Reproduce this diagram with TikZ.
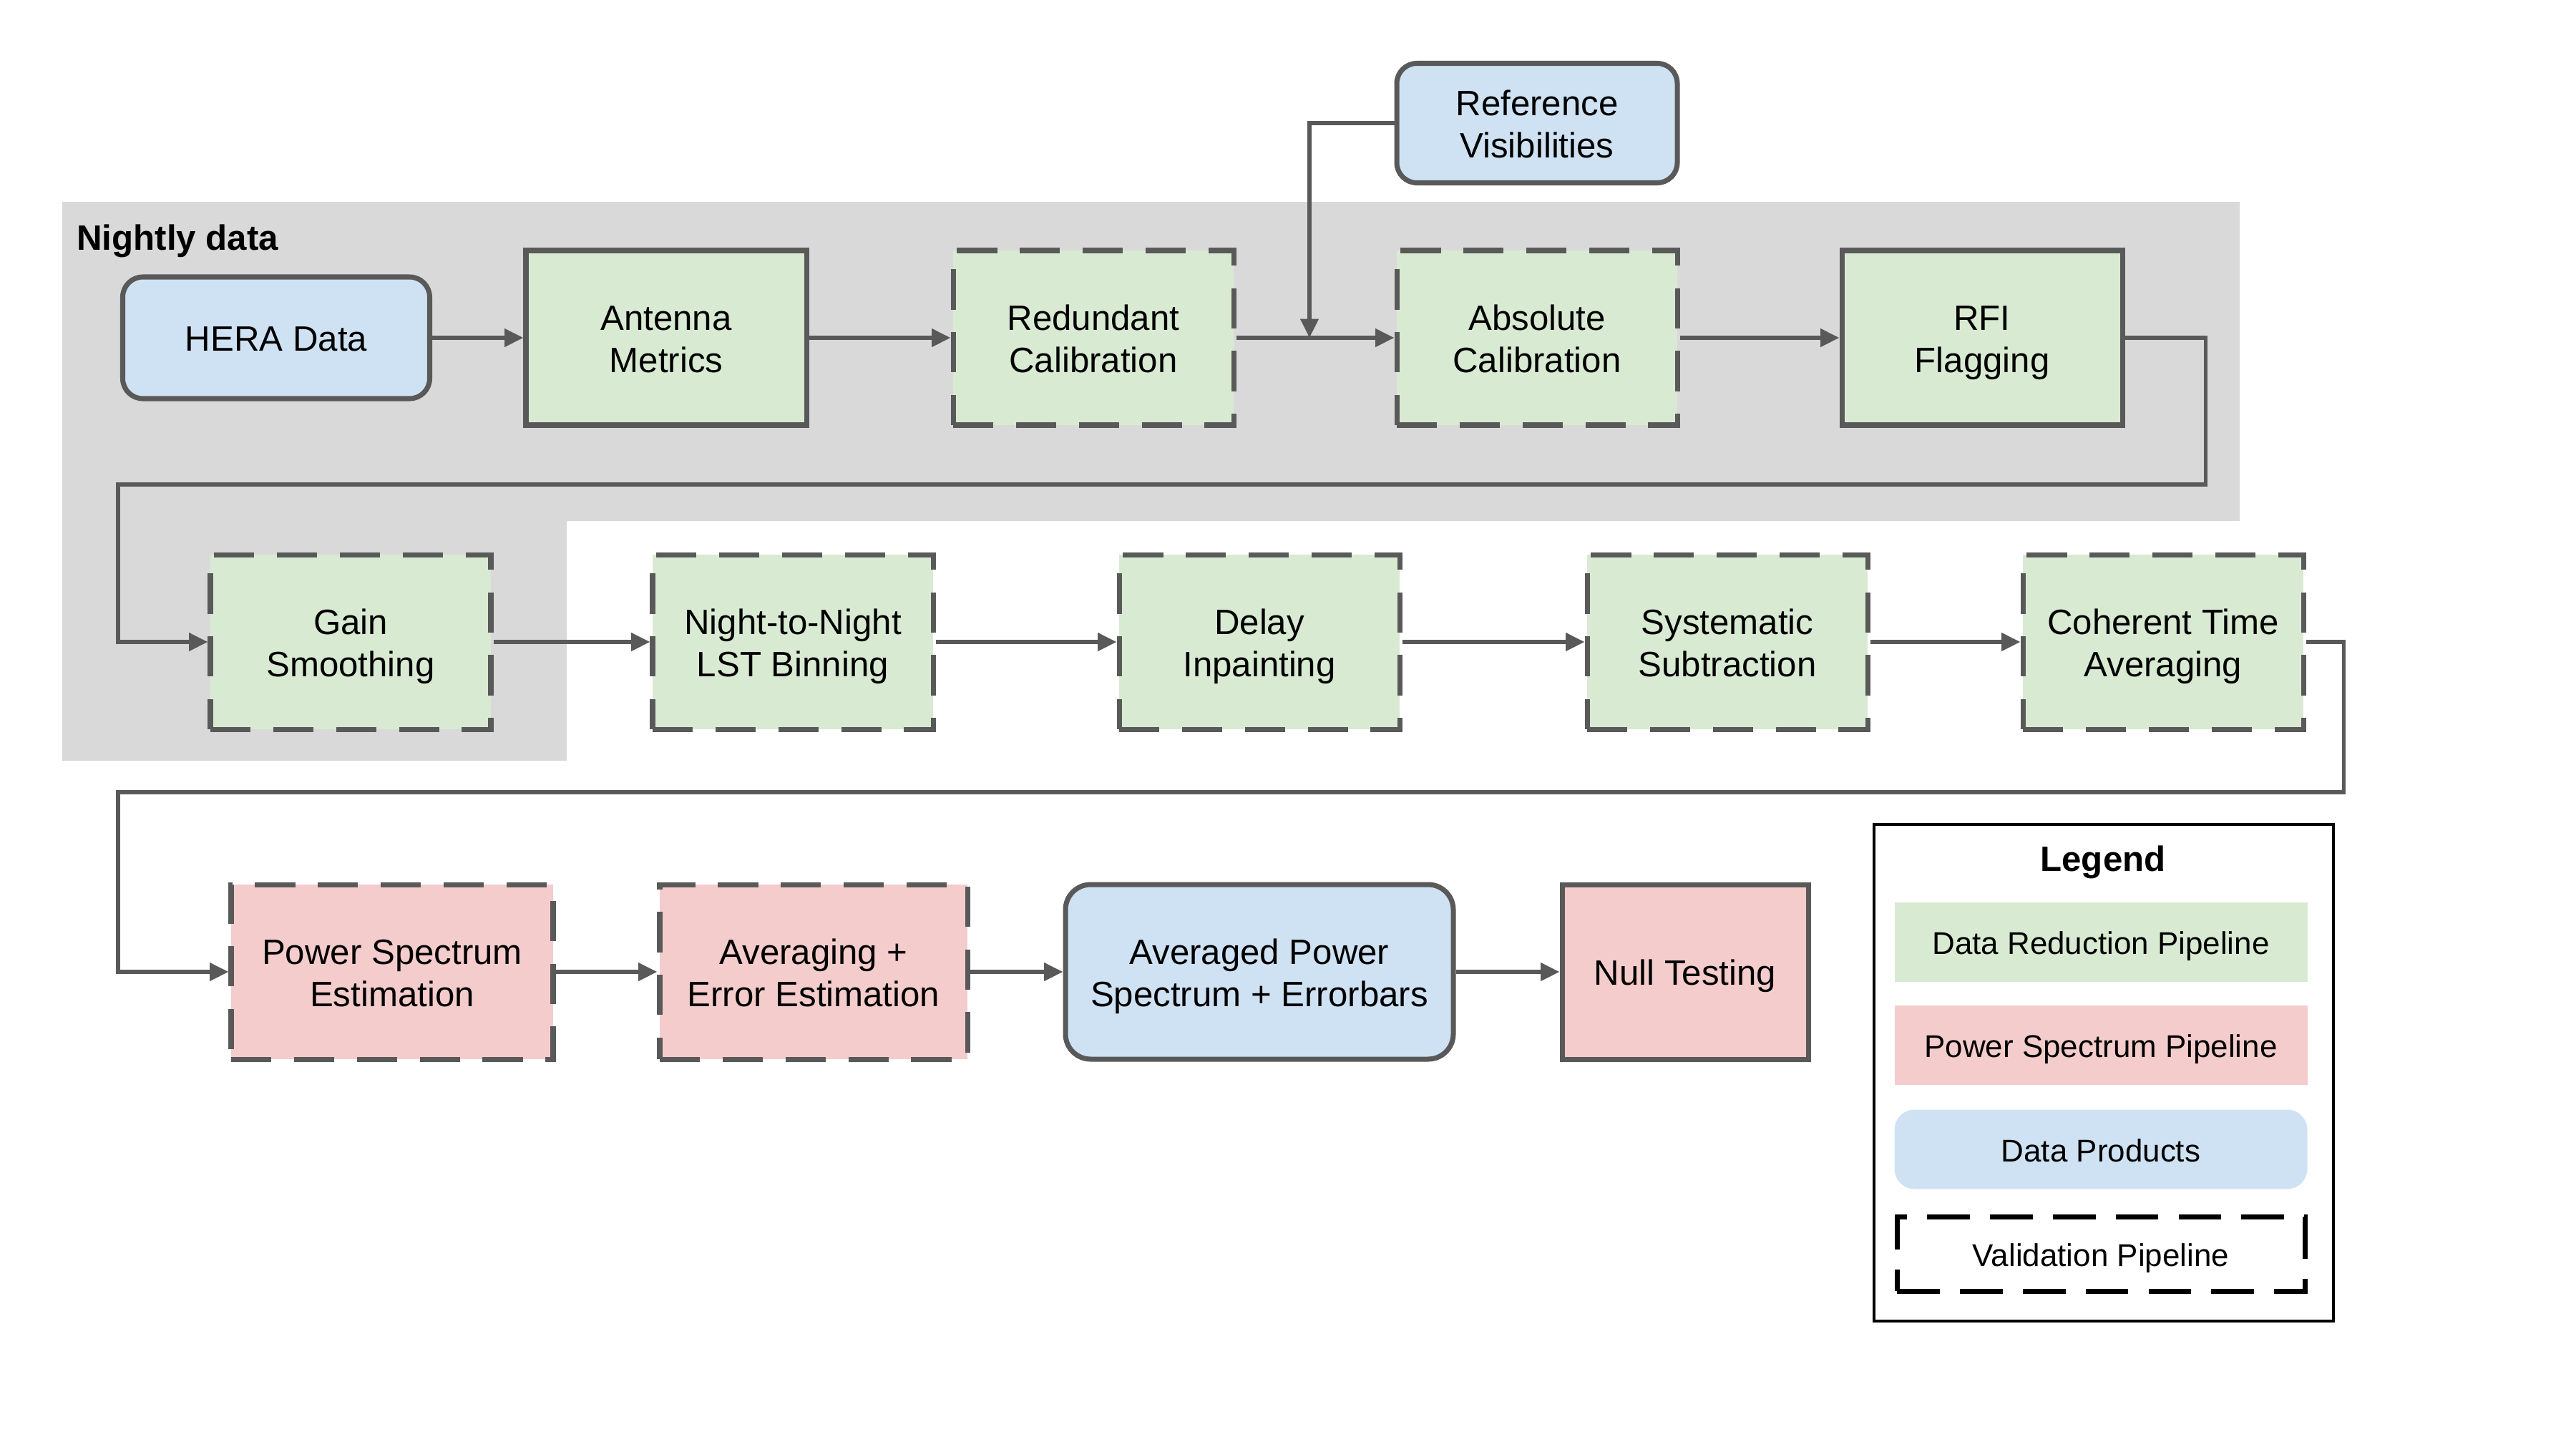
\documentclass[tikz,border=0pt]{standalone}
\usepackage{fontspec}
\setmainfont{Liberation Sans}
\usetikzlibrary{arrows.meta,positioning}
\definecolor{heragreen}{HTML}{D9EAD3}
\definecolor{herared}{HTML}{F4CCCC}
\definecolor{herablue}{HTML}{CFE2F3}
\definecolor{heragray}{HTML}{D9D9D9}
\definecolor{heraline}{HTML}{595959}

\tikzset{
  box/.style={draw=heraline, line width=2pt, minimum width=3.92cm, minimum height=2.44cm,
    align=center, font=\fontsize{14}{17}\selectfont, text height=29.8pt, text depth=2pt},
  oneline/.style={text height=12.6pt, text depth=2pt},
  redu/.style={box, fill=heragreen},
  pspec/.style={box, fill=herared},
  prod/.style={box, fill=herablue, rounded corners=8pt},
  valid/.style={dash pattern=on 16pt off 9pt},
  flow/.style={draw=heraline, line width=1.5pt, -{Triangle[length=7.5pt,width=7pt]}},
  legbox/.style={minimum width=5.77cm, minimum height=1.11cm, font=\fontsize{12.5}{15}\selectfont,
    execute at begin node=\rule[-3pt]{0pt}{16pt}},
  bigbold/.style={font=\bfseries\fontsize{14}{17}\selectfont,
    execute at begin node=\rule[-3pt]{0pt}{12.4pt}},
}

\begin{document}
\begin{tikzpicture}
\useasboundingbox (0,0) rectangle (36,-20);

% Nightly data region
\fill[heragray] (0.87,-2.82) -- (31.30,-2.82) -- (31.30,-7.28) -- (7.92,-7.28)
  -- (7.92,-10.63) -- (0.87,-10.63) -- cycle;
\node[bigbold, anchor=west] (nightly) at (0.95,-3.37) {Nightly data};

% First row
\node[prod, oneline, minimum width=4.29cm, minimum height=1.70cm] (hera) at (3.86,-4.72) {HERA Data};
\node[redu] (antenna) at (9.31,-4.72) {Antenna\\Metrics};
\node[redu, valid] (redcal) at (15.28,-4.72) {Redundant\\Calibration};
\node[redu, valid] (abscal) at (21.48,-4.72) {Absolute\\Calibration};
\node[redu] (rfi) at (27.70,-4.72) {RFI\\Flagging};
\node[prod, minimum height=1.67cm] (refvis) at (21.48,-1.72) {Reference\\Visibilities};

% Second row
\node[redu, valid] (gain) at (4.90,-8.97) {Gain\\Smoothing};
\node[redu, valid] (lstbin) at (11.08,-8.97) {Night-to-Night\\LST Binning};
\node[redu, valid] (inpaint) at (17.60,-8.97) {Delay\\Inpainting};
\node[redu, valid] (sysub) at (24.14,-8.97) {Systematic\\Subtraction};
\node[redu, valid] (cohavg) at (30.23,-8.97) {Coherent Time\\Averaging};

% Third row
\node[pspec, valid, minimum width=4.50cm] (psest) at (5.48,-13.58) {Power Spectrum\\Estimation};
\node[pspec, valid, minimum width=4.30cm] (avgerr) at (11.37,-13.58) {Averaging +\\Error Estimation};
\node[prod, rounded corners=10pt, minimum width=5.42cm] (avgps) at (17.60,-13.58) {Averaged Power\\Spectrum + Errorbars};
\node[pspec, oneline, minimum width=3.44cm] (null) at (23.55,-13.58) {Null Testing};

% Connectors
\coordinate (refin) at (18.30,-4.72);
\coordinate (wrapa) at (1.65,-6.77);
\coordinate (wrapb) at (1.65,-11.07);
\draw[flow] (hera) -- (antenna);
\draw[flow] (antenna) -- (redcal);
\draw[flow] (redcal) -- (abscal);
\draw[flow] (refvis.west) -| (refin);
\draw[flow] (abscal) -- (rfi);
\draw[flow] (rfi.east) -- ++(1.13,0) |- (wrapa) |- (gain.west);
\draw[flow] (gain) -- (lstbin);
\draw[flow] (lstbin) -- (inpaint);
\draw[flow] (inpaint) -- (sysub);
\draw[flow] (sysub) -- (cohavg);
\draw[flow] (cohavg.east) -- ++(0.53,0) |- (wrapb) |- (psest.west);
\draw[flow] (psest) -- (avgerr);
\draw[flow] (avgerr) -- (avgps);
\draw[flow] (avgps) -- (null);

% Legend
\node[draw=black, line width=1.2pt, minimum width=6.42cm, minimum height=6.94cm] (legend) at (29.40,-14.99) {};
\node[bigbold] (legtitle) at (29.39,-12.05) {Legend};
\node[legbox, fill=heragreen] (legred) at (29.36,-13.16) {Data Reduction Pipeline};
\node[legbox, fill=herared] (legps) at (29.36,-14.60) {Power Spectrum Pipeline};
\node[legbox, fill=herablue, rounded corners=8pt] (legprod) at (29.36,-16.06) {Data Products};
\node[legbox, draw=black, line width=2pt, dash pattern=on 17pt off 8pt,
  minimum width=5.70cm, minimum height=1.04cm] (legval) at (29.36,-17.52) {Validation Pipeline};
\end{tikzpicture}
\end{document}
